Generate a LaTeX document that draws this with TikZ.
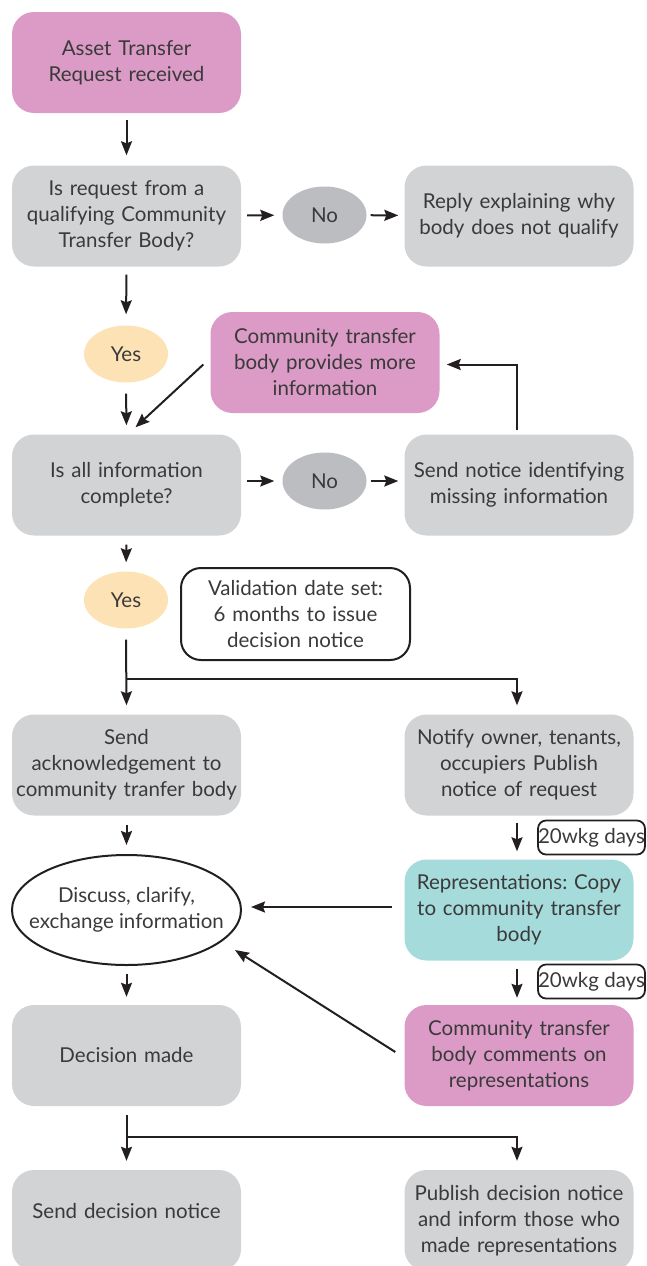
\documentclass[tikz,border=0pt]{standalone}
\usepackage{fontspec}
\setmainfont{Lato}
\frenchspacing
\usetikzlibrary{arrows.meta,shapes.geometric}
\definecolor{pinkc}{HTML}{DB9BC6}
\definecolor{greyc}{HTML}{D1D3D4}
\definecolor{noc}{HTML}{BCBDC0}
\definecolor{yesc}{HTML}{FDE2B6}
\definecolor{tealc}{HTML}{A6DBDC}
\definecolor{txt}{HTML}{3A3A3A}
\definecolor{ln}{HTML}{231F20}
\tikzset{
  txtstyle/.style={font=\fontsize{20.5}{26}\selectfont, text=txt, align=center},
  box/.style={txtstyle, rounded corners=22pt, minimum width=229pt, minimum height=101pt, inner sep=0pt, text width=228pt},
  pinkbox/.style={box, fill=pinkc},
  greybox/.style={box, fill=greyc},
  tealbox/.style={box, fill=tealc},
  oval/.style={txtstyle, ellipse, minimum width=84pt, minimum height=57pt, inner sep=0pt},
  nooval/.style={oval, fill=noc},
  yesoval/.style={oval, fill=yesc},
  bigoval/.style={txtstyle, draw=ln, line width=2pt, ellipse, minimum width=229pt, minimum height=110pt, inner xsep=-30pt, inner ysep=0pt},
  whitebox/.style={txtstyle, draw=ln, line width=2pt, fill=white, rounded corners=20pt, minimum width=229pt, minimum height=92pt, inner sep=0pt, text width=224pt},
  tagbox/.style={txtstyle, draw=ln, line width=1.8pt, rounded corners=8pt, minimum width=104pt, minimum height=34pt, inner sep=0pt},
  conn/.style={draw=ln, line width=2pt},
  arr/.style={conn, -{Stealth[length=14pt,width=11pt,inset=2pt]}}
}
\begin{document}
\begin{tikzpicture}[x=1pt,y=-1pt]
\useasboundingbox (0,0) rectangle (646,1266);
\clip (0,0) rectangle (646,1266);

% nodes
\node[pinkbox] (req) at (126.5,62.5) {Asset Transfer\\Request received};
\node[greybox] (qual) at (126.5,216) {Is request from a\\qualifying Community\\Transfer Body?};
\node[nooval] (no1) at (324.5,215) {No};
\node[greybox] (reply) at (519,216) {Reply explaining why\\body does not qualify};
\node[yesoval] (yes1) at (126,354) {Yes};
\node[pinkbox] (more) at (325,362.5) {Community transfer\\body provides more\\information};
\node[greybox] (compl) at (126.5,485) {Is all information\\complete?};
\node[nooval] (no2) at (324.5,481) {No};
\node[greybox] (notice) at (519,485) {Send notice identifying\\missing information};
\node[yesoval] (yes2) at (126,600) {Yes};
\node[whitebox] (valid) at (295.5,614) {Validation date set:\\6 months to issue\\decision notice};
\node[greybox] (ack) at (126.5,765) {Send\\acknowledgement to\\community tranfer body};
\node[greybox] (notify) at (519,765) {Notify owner, tenants,\\occupiers Publish\\notice of request};
\node[tagbox] (tag1) at (591.5,837.5) {20wkg days};
\node[bigoval] (disc) at (126.5,910) {Discuss, clarify,\\exchange information};
\node[tealbox] (reps) at (519,910) {Representations: Copy\\to community transfer\\body};
\node[tagbox] (tag2) at (591.5,981.5) {20wkg days};
\node[greybox] (dec) at (126.5,1055.5) {Decision made};
\node[pinkbox] (comm) at (519,1055.5) {Community transfer\\body comments on\\representations};
\node[greybox, text depth=20pt] (send) at (126.5,1220.5) {Send decision notice};
\node[greybox] (publ) at (519,1220.5) {Publish decision notice\\and inform those who\\made representations};

\coordinate (split1) at (126.5,679);
\coordinate (split2) at (126.5,1137);

% connectors
\draw[arr, shorten <=7pt, shorten >=10pt] (req) -- (qual);
\draw[arr, shorten <=6pt, shorten >=8pt] (qual) -- (no1);
\draw[arr, shorten <=4pt, shorten >=6pt] (no1) -- (reply);
\draw[arr, shorten <=8pt, shorten >=11pt] (qual.south) -- (yes1.north);
\draw[arr, shorten <=11pt, shorten >=9pt] (yes1.south) -- (compl.north);
\draw[arr] ([xshift=-7pt,yshift=-2pt]more.west) -- ([xshift=9pt,yshift=7pt]compl.north);
\draw[arr, shorten <=6pt, shorten >=8pt] (compl.east |- no2) -- (no2);
\draw[arr, shorten <=4pt, shorten >=6pt] (no2) -- (notice.west |- no2);
\draw[arr] ([xshift=-2pt,yshift=4pt]notice.north) |- ([xshift=7pt,yshift=-2pt]more.east);
\draw[arr, shorten <=9pt, shorten >=9pt] (compl.south) -- (yes2.north);
\draw[arr] ([yshift=-11pt]yes2.south) -- ([yshift=9pt]ack.north);
\draw[arr] (split1) -| ([xshift=-2pt,yshift=9pt]notify.north);
\draw[arr] ([yshift=-9pt]ack.south) -- ([yshift=9pt]disc.north);
\draw[arr] ([xshift=-2pt,yshift=-7pt]notify.south) -- ([xshift=-2pt,yshift=8pt]reps.north);
\draw[arr] ([xshift=-12pt,yshift=3pt]reps.west) -- ([xshift=9pt,yshift=3pt]disc.east);
\draw[arr] ([xshift=-2pt,yshift=-8pt]reps.south) -- ([xshift=-2pt,yshift=7pt]comm.north);
\draw[arr] ([xshift=-9pt,yshift=3.5pt]comm.west) -- ([xshift=-7pt,yshift=-40pt]disc.east);
\draw[arr] ([yshift=-8pt]disc.south) -- ([yshift=8pt]dec.north);
\draw[arr] ([yshift=-9pt]dec.south) -- ([yshift=9pt]send.north);
\draw[arr] (split2) -| ([xshift=-2pt,yshift=9pt]publ.north);
\end{tikzpicture}
\end{document}
